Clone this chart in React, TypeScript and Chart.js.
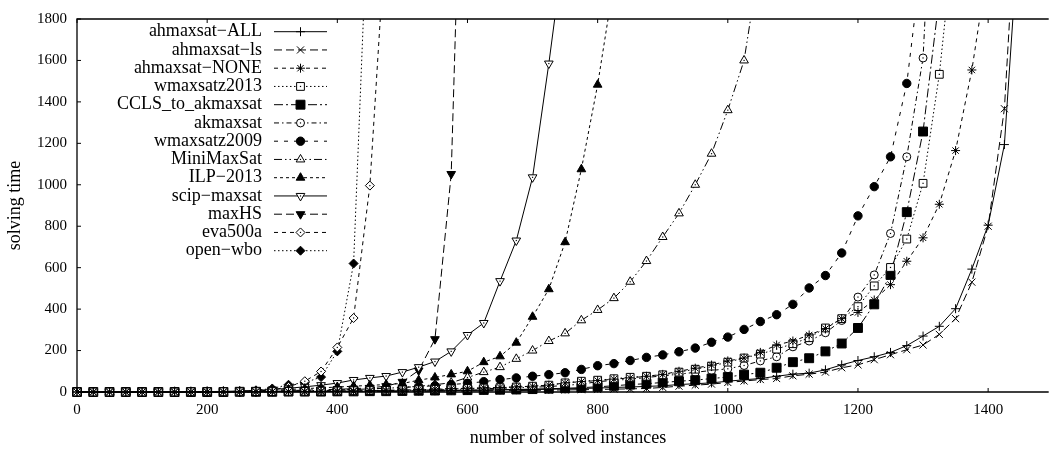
import React, { useEffect, useRef } from 'react';
import { Chart, registerables } from 'chart.js';
import { drawPoint } from 'chart.js/helpers';

Chart.register(...registerables);

// ---------- data (solving time at every 25 solved instances) ----------
const STEP = 25;
const TIME_LIMIT = 1800;
const X_TICKS = [0, 200, 400, 600, 800, 1000, 1200, 1400];
const Y_TICKS = [0, 200, 400, 600, 800, 1000, 1200, 1400, 1600, 1800];

const labels = [
  'ahmaxsat\u2212ALL', 'ahmaxsat\u2212ls', 'ahmaxsat\u2212NONE', 'wmaxsatz2013', 'CCLS_to_akmaxsat',
  'akmaxsat', 'wmaxsatz2009', 'MiniMaxSat', 'ILP\u22122013', 'scip\u2212maxsat', 'maxHS', 'eva500a', 'open\u2212wbo',
];

const ahmaxsatAll = [
  0, 0, 0, 0, 0, 0, 0, 0, 0, 0,
  1, 1, 1, 2, 2, 2, 3, 3, 4, 4,
  5, 5, 6, 7, 8, 9, 10, 11, 12, 13,
  15, 17, 19, 22, 24, 27, 30, 36, 40, 44,
  52, 59, 65, 76, 86, 91, 107, 131, 152, 170,
  191, 224, 270, 317, 402, 593, 805, 1194,
];
const ahmaxsatLs = [
  0, 0, 0, 0, 0, 0, 0, 0, 0, 0,
  0, 1, 1, 1, 1, 2, 2, 2, 3, 3,
  3, 4, 4, 5, 5, 6, 6, 7, 8, 9,
  10, 11, 12, 14, 15, 17, 22, 28, 33, 38,
  46, 53, 60, 65, 78, 86, 96, 117, 131, 156,
  180, 204, 227, 278, 354, 530, 800, 1367,
];
const ahmaxsatNone = [
  0, 0, 0, 0, 0, 0, 0, 1, 1, 1,
  1, 2, 2, 3, 3, 4, 5, 6, 7, 8,
  10, 12, 14, 16, 18, 20, 22, 25, 28, 33,
  44, 50, 55, 62, 68, 76, 85, 100, 115, 130,
  150, 164, 191, 227, 246, 275, 306, 354, 384, 444,
  518, 631, 744, 906, 1165, 1554,
];
const wmaxsatz2013 = [
  0, 0, 0, 0, 0, 0, 0, 1, 1, 1,
  1, 2, 2, 3, 3, 4, 5, 6, 7, 8,
  10, 11, 13, 15, 17, 19, 21, 24, 28, 33,
  44, 52, 57, 64, 71, 76, 83, 96, 110, 125,
  144, 164, 183, 207, 233, 262, 309, 354, 412, 512,
  601, 738, 1007, 1533,
];
const cclsToAkmaxsat = [
  0, 0, 0, 0, 0, 0, 0, 0, 0, 0,
  1, 1, 1, 2, 2, 2, 3, 3, 4, 4,
  5, 6, 7, 8, 9, 10, 11, 12, 14, 16,
  18, 21, 25, 30, 36, 40, 46, 52, 57, 65,
  72, 84, 93, 117, 144, 163, 196, 234, 309, 423,
  565, 868, 1257,
];
const akmaxsat = [
  0, 0, 0, 0, 0, 0, 0, 0, 1, 1,
  1, 1, 2, 2, 3, 3, 4, 5, 6, 7,
  8, 9, 10, 12, 14, 16, 18, 20, 23, 26,
  32, 38, 50, 56, 62, 70, 78, 86, 95, 104,
  112, 128, 150, 170, 218, 246, 286, 345, 458, 565,
  765, 1135, 1612,
];
const wmaxsatz2009 = [
  0, 0, 0, 0, 0, 0, 0, 0, 1, 1,
  1, 2, 3, 4, 5, 7, 9, 12, 15, 18,
  22, 26, 30, 36, 42, 50, 60, 68, 76, 84,
  93, 109, 127, 137, 152, 167, 179, 194, 212, 240,
  265, 302, 340, 373, 423, 502, 562, 671, 850, 991,
  1135, 1489,
];
const miniMaxSat = [
  0, 0, 0, 0, 0, 0, 0, 0, 1, 1,
  1, 2, 3, 4, 6, 8, 10, 12, 15, 18,
  22, 28, 35, 45, 70, 96, 120, 160, 200, 246,
  283, 346, 396, 453, 532, 632, 748, 862, 1000, 1150,
  1360, 1600,
];
const ilp2013 = [
  0, 0, 0, 0, 0, 0, 1, 1, 1, 2,
  3, 5, 8, 12, 16, 20, 24, 28, 32, 36,
  41, 57, 70, 85, 100, 144, 172, 238, 363, 496,
  723, 1075, 1483,
];
const scipMaxsat = [
  0, 0, 0, 0, 0, 0, 1, 1, 2, 3,
  5, 8, 12, 18, 25, 33, 43, 58, 68, 77,
  96, 120, 147, 196, 275, 333, 535, 731, 1036, 1585,
];
const maxHS = [
  0, 0, 0, 0, 0, 0, 0, 1, 1, 1,
  2, 3, 5, 7, 9, 11, 13, 16, 20, 28,
  49, 104, 255, 1052,
];
const eva500a = [
  0, 0, 0, 0, 0, 0, 0, 1, 1, 1,
  2, 4, 10, 25, 52, 99, 215, 357, 996,
];
const openWbo = [
  0, 0, 0, 0, 0, 0, 0, 1, 1, 1,
  2, 8, 17, 35, 45, 72, 196, 620,
];

const seriesValues = [
  ahmaxsatAll, ahmaxsatLs, ahmaxsatNone, wmaxsatz2013, cclsToAkmaxsat, akmaxsat,
  wmaxsatz2009, miniMaxSat, ilp2013, scipMaxsat, maxHS, eva500a, openWbo,
];
// number of solved instances at which each solver reaches the time limit
const exitInstances = [1438, 1433, 1387, 1334, 1321, 1303, 1287, 1035, 816, 734, 582, 466, 440];

// ---------- styles ----------
type Sty = { dash: number[]; ps: string; rot: number; r: number; fill: boolean; dot: boolean };
const styles: Sty[] = [
  { dash: [], ps: 'cross', rot: 0, r: 4.5, fill: false, dot: false },
  { dash: [8, 4], ps: 'crossRot', rot: 0, r: 5, fill: false, dot: false },
  { dash: [4, 4], ps: 'star', rot: 0, r: 4.5, fill: false, dot: false },
  { dash: [1.5, 2.5], ps: 'rect', rot: 0, r: 5.5, fill: false, dot: true },
  { dash: [9, 3, 2, 3], ps: 'rect', rot: 0, r: 6.3, fill: true, dot: false },
  { dash: [5, 3, 1.5, 3], ps: 'circle', rot: 0, r: 4, fill: false, dot: true },
  { dash: [4, 6], ps: 'circle', rot: 0, r: 4.2, fill: true, dot: false },
  { dash: [8, 3, 1.5, 3, 1.5, 3], ps: 'triangle', rot: 0, r: 5, fill: false, dot: true },
  { dash: [3, 3], ps: 'triangle', rot: 0, r: 5, fill: true, dot: false },
  { dash: [], ps: 'triangle', rot: 180, r: 5, fill: false, dot: true },
  { dash: [8, 4], ps: 'triangle', rot: 180, r: 5, fill: true, dot: false },
  { dash: [4, 4], ps: 'rectRot', rot: 0, r: 4.5, fill: false, dot: true },
  { dash: [1.5, 2.5], ps: 'rectRot', rot: 0, r: 4.5, fill: true, dot: false },
];

const FONT = '"Liberation Serif", "DejaVu Serif", serif';

const framePlugin = {
  id: 'frame',
  afterDatasetsDraw(chart: any) {
    const { ctx } = chart;
    // center dots of open markers
    chart.data.datasets.forEach((ds: any, i: number) => {
      if (!styles[i].dot) return;
      const meta = chart.getDatasetMeta(i);
      ctx.save();
      ctx.fillStyle = '#000';
      meta.data.forEach((pt: any, j: number) => {
        if (j === meta.data.length - 1) return;
        ctx.fillRect(pt.x - 0.6, pt.y - 0.6, 1.2, 1.2);
      });
      ctx.restore();
    });
  },
  afterDraw(chart: any) {
    const { ctx, chartArea, scales } = chart;
    const { left, right, top, bottom } = chartArea;
    ctx.save();
    ctx.strokeStyle = '#000';
    ctx.lineWidth = 1.3;
    ctx.setLineDash([]);
    ctx.beginPath();
    ctx.moveTo(right + 2, top);
    ctx.lineTo(left, top);
    ctx.lineTo(left, bottom);
    ctx.lineTo(right + 2, bottom);
    ctx.stroke();
    ctx.lineWidth = 1;
    const tl = 4;
    ctx.beginPath();
    X_TICKS.forEach((v) => {
      const x = scales.x.getPixelForValue(v);
      ctx.moveTo(x, bottom);
      ctx.lineTo(x, bottom - tl);
      ctx.moveTo(x, top);
      ctx.lineTo(x, top + tl);
    });
    Y_TICKS.forEach((v) => {
      const y = scales.y.getPixelForValue(v);
      ctx.moveTo(left, y);
      ctx.lineTo(left + tl, y);
    });
    ctx.stroke();

    // axis titles
    ctx.fillStyle = '#000';
    ctx.font = `18px ${FONT}`;
    ctx.textAlign = 'center';
    ctx.textBaseline = 'middle';
    ctx.fillText('number of solved instances', 568, 438);
    ctx.save();
    ctx.translate(15, (top + bottom) / 2);
    ctx.rotate(-Math.PI / 2);
    ctx.fillText('solving time', 0, 0);
    ctx.restore();

    // legend
    ctx.font = `18px ${FONT}`;
    ctx.textAlign = 'right';
    chart.data.datasets.forEach((ds: any, i: number) => {
      const s = styles[i];
      const y = 31.7 + i * 18.25;
      ctx.fillStyle = '#000';
      ctx.fillText(ds.label, 262, y);
      ctx.lineWidth = 1;
      ctx.setLineDash(s.dash);
      ctx.beginPath();
      ctx.moveTo(274, y);
      ctx.lineTo(327, y);
      ctx.stroke();
      ctx.setLineDash([]);
      ctx.fillStyle = s.fill ? '#000' : '#fff';
      ctx.strokeStyle = '#000';
      drawPoint(ctx, { pointStyle: s.ps, rotation: s.rot, radius: s.r, borderWidth: 1 } as any, 300.5, y);
      if (s.dot) {
        ctx.fillStyle = '#000';
        ctx.fillRect(300.5 - 0.6, y - 0.6, 1.2, 1.2);
      }
    });
    ctx.restore();
  },
};

export default function App() {
  const ref = useRef<HTMLCanvasElement>(null);
  useEffect(() => {
    document.body.style.margin = '0';
    const canvas = ref.current!;
    const datasets = seriesValues.map((vals, i) => {
      const s = styles[i];
      const pts = vals.map((v, j) => ({ x: j * STEP, y: v }));
      pts.push({ x: exitInstances[i], y: TIME_LIMIT });
      const last = pts.length - 1;
      return {
        label: labels[i],
        data: pts,
        borderColor: '#000',
        borderWidth: 1,
        borderDash: s.dash,
        pointStyle: s.ps,
        rotation: s.rot,
        pointRadius: (c: any) => (c.dataIndex === last ? 0 : s.r),
        pointBorderWidth: 1,
        pointBorderColor: '#000',
        pointBackgroundColor: s.fill ? '#000' : '#fff',
        tension: 0,
        fill: false,
        clip: false as any,
      };
    });
    const chart = new Chart(canvas, {
      type: 'line',
      data: { datasets },
      options: {
        animation: false,
        responsive: false,
        devicePixelRatio: 1,
        layout: { padding: { top: 12, left: 0, right: 0, bottom: 0 } },
        plugins: { legend: { display: false }, tooltip: { enabled: false } },
        scales: {
          x: {
            type: 'linear',
            min: 0,
            max: 1490,
            grid: { display: false, drawTicks: false },
            border: { display: false },
            afterFit: (sc: any) => { sc.height = 59; },
            afterBuildTicks: (sc: any) => { sc.ticks = X_TICKS.map((v) => ({ value: v })); },
            ticks: { color: '#000', font: { family: FONT, size: 15 }, padding: 9, maxRotation: 0, callback: (v: any) => String(v) },
          },
          y: {
            type: 'linear',
            min: 0,
            max: 1800,
            grid: { display: false, drawTicks: false },
            border: { display: false },
            afterFit: (sc: any) => { sc.width = 77; },
            afterBuildTicks: (sc: any) => { sc.ticks = Y_TICKS.map((v) => ({ value: v })); },
            ticks: { color: '#000', font: { family: FONT, size: 15 }, padding: 10, callback: (v: any) => String(v) },
          },
        },
      },
      plugins: [framePlugin],
    });
    return () => chart.destroy();
  }, []);
  return (
    <div style={{ width: 1054, height: 451 }}>
      <canvas ref={ref} width={1054} height={451} style={{ display: 'block' }} />
    </div>
  );
}
